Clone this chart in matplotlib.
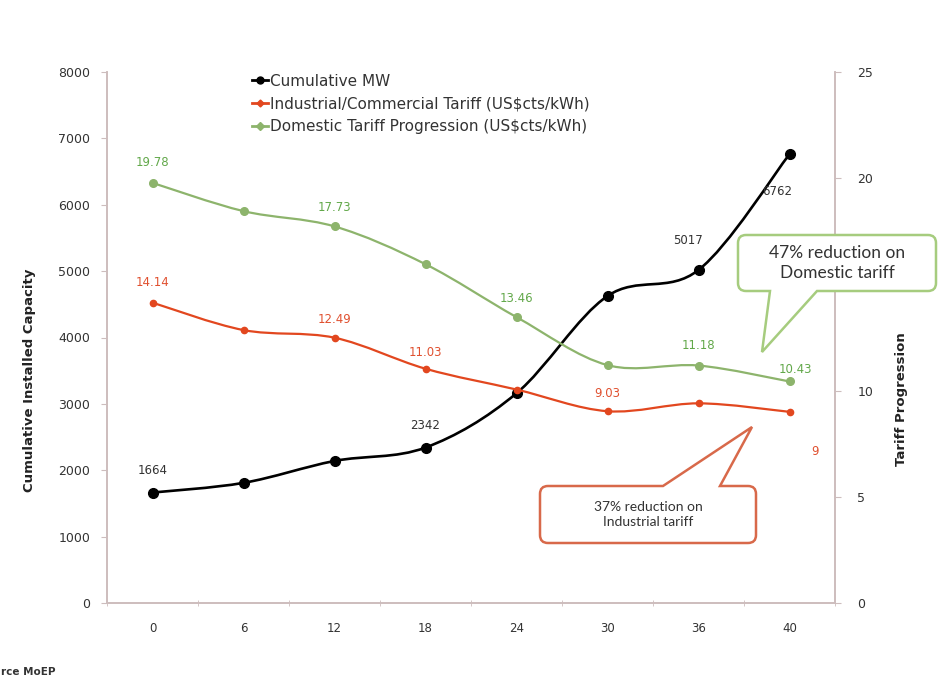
import matplotlib
matplotlib.use("Agg")
import matplotlib.pyplot as plt
from matplotlib.path import Path
from matplotlib.patches import PathPatch

# ---- data ----
months = ["0", "6", "12", "18", "24", "30", "36", "40"]
cumulative_mw = [1664, 1810, 2140, 2342, 3160, 4625, 5017, 6762]
industrial_tariff = [14.14, 12.85, 12.49, 11.03, 10.05, 9.03, 9.40, 9.00]
domestic_tariff = [19.78, 18.45, 17.73, 15.95, 13.46, 11.20, 11.18, 10.43]

mw_labels = {0: "1664", 3: "2342", 6: "5017", 7: "6762"}
ind_labels = {0: "14.14", 2: "12.49", 3: "11.03", 5: "9.03", 7: "9"}
dom_labels = {0: "19.78", 2: "17.73", 4: "13.46", 6: "11.18", 7: "10.43"}

series_names = ["Cumulative MW",
                "Industrial/Commercial Tariff (US$cts/kWh)",
                "Domestic Tariff Progression (US$cts/kWh)"]

BLACK = "#000000"
RED = "#E2471F"
GREEN = "#8DB46C"
RED_TXT = "#E0502F"
GREEN_TXT = "#62A84A"
AXIS = "#CDBDBD"
TXT = "#333333"

plt.rcParams["font.family"] = ["DejaVu Sans"]

W, H = 939, 679
fig = plt.figure(figsize=(W / 100, H / 100), dpi=100)
ax = fig.add_axes([107 / W, 1 - 603 / H, (835 - 107) / W, (603 - 72) / H])
ax2 = ax.twinx()

x = list(range(len(months)))


def smooth_path(xs, ys):
    """Cardinal-spline style Bezier path through the given points."""
    n = len(xs)
    verts = [(xs[0], ys[0])]
    codes = [Path.MOVETO]
    for i in range(n - 1):
        i0 = max(i - 1, 0)
        i3 = min(i + 2, n - 1)
        c1 = (xs[i] + (xs[i + 1] - xs[i0]) / 6, ys[i] + (ys[i + 1] - ys[i0]) / 6)
        c2 = (xs[i + 1] - (xs[i3] - xs[i]) / 6, ys[i + 1] - (ys[i3] - ys[i]) / 6)
        verts += [c1, c2, (xs[i + 1], ys[i + 1])]
        codes += [Path.CURVE4] * 3
    return Path(verts, codes)


# smoothed lines
ax.add_patch(PathPatch(smooth_path(x, cumulative_mw), fill=False,
                       edgecolor=BLACK, lw=1.9, zorder=3))
ax2.add_patch(PathPatch(smooth_path(x, industrial_tariff), fill=False,
                        edgecolor=RED, lw=1.6, zorder=3))
ax2.add_patch(PathPatch(smooth_path(x, domestic_tariff), fill=False,
                        edgecolor=GREEN, lw=1.6, zorder=3))

# markers
ax.plot(x, cumulative_mw, ls="none", marker="o", ms=7, color=BLACK, zorder=4)
ax2.plot(x, industrial_tariff, ls="none", marker="o", ms=4.5, color=RED, zorder=4)
ax2.plot(x, domestic_tariff, ls="none", marker="o", ms=5.5, color=GREEN, zorder=4)

# data labels
LBL = 8.5
mw_off = {0: (0, 22), 3: (0, 22), 6: (-10, 29), 7: (-12, -37)}
for i, t in mw_labels.items():
    ax.annotate(t, (x[i], cumulative_mw[i]), xytext=mw_off[i], textcoords="offset pixels",
                ha="center", va="center", fontsize=LBL, color=TXT, zorder=5)
ind_off = {0: (0, 20), 2: (0, 18), 3: (0, 16), 5: (0, 18), 7: (25, -40)}
for i, t in ind_labels.items():
    ax2.annotate(t, (x[i], industrial_tariff[i]), xytext=ind_off[i], textcoords="offset pixels",
                 ha="center", va="center", fontsize=LBL, color=RED_TXT, zorder=5)
dom_off = {0: (0, 20), 2: (0, 19), 4: (0, 19), 6: (0, 20), 7: (6, 12)}
for i, t in dom_labels.items():
    ax2.annotate(t, (x[i], domestic_tariff[i]), xytext=dom_off[i], textcoords="offset pixels",
                 ha="center", va="center", fontsize=LBL, color=GREEN_TXT, zorder=5)

# axes
ax.set_xlim(-0.5, len(months) - 0.5)
ax.set_ylim(0, 8000)
ax2.set_ylim(0, 25)
ax.set_yticks(range(0, 8001, 1000))
ax2.set_yticks(range(0, 26, 5))
ax.set_xticks(x)
ax.set_xticklabels(months)
ax.set_xticks([i - 0.5 for i in range(len(months) + 1)], minor=True)
ax.tick_params(axis="x", which="major", length=0, pad=14, labelsize=8.5, labelcolor=TXT)
ax.tick_params(axis="x", which="minor", length=5, color=AXIS, direction="inout")
ax.tick_params(axis="y", length=4, color=AXIS, labelsize=9, labelcolor=TXT, pad=8)
ax2.tick_params(axis="y", length=4, color=AXIS, labelsize=9, labelcolor=TXT, pad=12)

for a in (ax, ax2):
    a.spines["top"].set_visible(False)
    for s in ("left", "right", "bottom"):
        a.spines[s].set_color(AXIS)
        a.spines[s].set_linewidth(1.2)

fig.text(30 / W, 1 - 380 / H, "Cumulative Installed Capacity", rotation=90,
         ha="center", va="center", fontsize=9.5, fontweight="bold", color="#222222")
fig.text(901 / W, 1 - 399 / H, "Tariff Progression", rotation=90,
         ha="center", va="center", fontsize=9.5, fontweight="bold", color="#222222")

# legend
handles = [
    plt.Line2D([], [], color=BLACK, lw=2, marker="o", ms=5),
    plt.Line2D([], [], color=RED, lw=2, marker="D", ms=3.5),
    plt.Line2D([], [], color=GREEN, lw=2, marker="D", ms=4),
]
fig.legend(handles, series_names, loc="upper left", bbox_to_anchor=(244 / W, 1 - 66 / H),
           frameon=False, fontsize=11, handlelength=1.1, handletextpad=0.1,
           labelspacing=0.5, labelcolor=TXT, borderpad=0)


def callout(box, base, tip, edge, text, size):
    """Rounded box with a wedge pointer, given in pixel coordinates (top-left origin)."""
    x0, y0, x1, y1 = box
    r = 8
    bx0, bx1, by = base
    tx, ty = tip
    pts, codes = [], []

    def P(px, py):
        return (px / W, 1 - py / H)

    pts.append(P(x0 + r, y0)); codes.append(Path.MOVETO)
    if by == y0:  # pointer on top edge
        pts += [P(bx0, y0), P(tx, ty), P(bx1, y0)]
        codes += [Path.LINETO] * 3
    pts += [P(x1 - r, y0), P(x1, y0), P(x1, y0 + r)]
    codes += [Path.LINETO, Path.CURVE3, Path.CURVE3]
    pts += [P(x1, y1 - r), P(x1, y1), P(x1 - r, y1)]
    codes += [Path.LINETO, Path.CURVE3, Path.CURVE3]
    if by == y1:  # pointer on bottom edge
        pts += [P(bx1, y1), P(tx, ty), P(bx0, y1)]
        codes += [Path.LINETO] * 3
    pts += [P(x0 + r, y1), P(x0, y1), P(x0, y1 - r)]
    codes += [Path.LINETO, Path.CURVE3, Path.CURVE3]
    pts += [P(x0, y0 + r), P(x0, y0), P(x0 + r, y0)]
    codes += [Path.LINETO, Path.CURVE3, Path.CURVE3]
    pts.append(P(x0 + r, y0)); codes.append(Path.CLOSEPOLY)
    fig.add_artist(PathPatch(Path(pts, codes), transform=fig.transFigure,
                             facecolor="white", edgecolor=edge, lw=1.8, zorder=6))
    fig.text((x0 + x1) / 2 / W, 1 - (y0 + y1) / 2 / H, text, ha="center", va="center",
             fontsize=size, color="#333333", family=["Lato", "DejaVu Sans"],
             linespacing=1.3, zorder=7)


callout((540, 486, 756, 543), (663, 720, 486), (752, 427), "#D8694A",
        "37% reduction on\nIndustrial tariff", 10)
callout((738, 235, 936, 291), (770, 817, 291), (762, 352), "#A6CC7E",
        "47% reduction on\nDomestic tariff", 12.5)

fig.text(1 / W, 1 - 672 / H, "rce MoEP", ha="left", va="center",
         fontsize=7.5, fontweight="bold", color="#333333")

fig.savefig("out.png", dpi=100)
